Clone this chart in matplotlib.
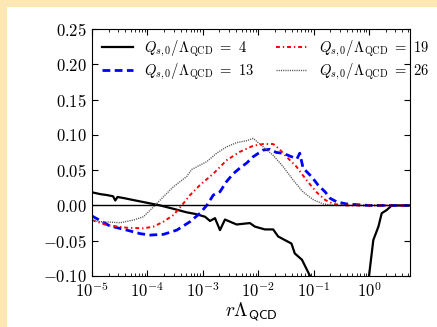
import numpy as np
from matplotlib import pyplot as plt
from matplotlib.patches import Rectangle

plt.rcParams['mathtext.fontset'] = 'cm'
plt.rcParams['font.family'] = 'serif'
plt.rcParams['font.serif'] = ['cmr10', 'DejaVu Serif']
plt.rcParams['axes.formatter.use_mathtext'] = True

# log10(r Lambda) and the curve values
lx_4 = [-5.0, -4.85, -4.73, -4.62, -4.58, -4.54, -4.40, -4.26, -4.01, -3.77, -3.52,
        -3.29, -3.14, -2.96, -2.87, -2.78, -2.69, -2.60, -2.51, -2.39, -2.15, -2.06,
        -1.88, -1.73, -1.64, -1.40, -1.34, -1.21, -1.09, -1.0, -0.7, -0.4, -0.15,
        0.0, 0.078, 0.17, 0.23, 0.32, 0.41, 0.74]
y_4 = [0.0186, 0.016, 0.0147, 0.013, 0.007, 0.012, 0.010, 0.0077, 0.0038, 0.0, -0.005,
       -0.0098, -0.012, -0.016, -0.022, -0.018, -0.035, -0.020, -0.023, -0.027, -0.025, -0.030,
       -0.034, -0.034, -0.044, -0.054, -0.068, -0.077, -0.096, -0.11, -0.14, -0.16, -0.14,
       -0.10, -0.049, -0.030, -0.011, -0.0065, 0.0, 0.0]

lx_13 = [-5.0, -4.68, -4.37, -4.13, -3.95, -3.71, -3.47, -3.23, -3.05, -2.93, -2.81,
         -2.69, -2.57, -2.45, -2.33, -2.21, -2.09, -1.91, -1.79, -1.67, -1.55, -1.43,
         -1.30, -1.25, -1.19, -1.04, -0.92, -0.79, -0.70, -0.58, -0.40, 0.0, 0.74]
y_13 = [-0.015, -0.029, -0.035, -0.040, -0.042, -0.041, -0.035, -0.023, -0.011, 0.0, 0.0147,
        0.0194, 0.034, 0.045, 0.053, 0.060, 0.069, 0.0785, 0.0795, 0.075, 0.074, 0.070,
        0.066, 0.074, 0.053, 0.041, 0.029, 0.019, 0.010, 0.005, 0.002, 0.0, 0.0]

lx_19 = [-5.0, -4.73, -4.37, -4.07, -3.89, -3.71, -3.53, -3.38, -3.23, -3.05, -2.81,
         -2.57, -2.33, -2.09, -1.91, -1.73, -1.62, -1.49, -1.31, -1.13, -0.95, -0.79,
         -0.64, -0.4, 0.74]
y_19 = [-0.0207, -0.028, -0.0316, -0.0325, -0.030, -0.023, -0.0136, 0.0, 0.0147, 0.029, 0.045,
        0.064, 0.076, 0.0846, 0.087, 0.087, 0.080, 0.069, 0.055, 0.036, 0.019, 0.0077,
        0.002, 0.0, 0.0]

lx_26 = [-5.0, -4.85, -4.49, -4.25, -4.07, -3.89, -3.71, -3.53, -3.29, -3.20, -2.93,
         -2.75, -2.57, -2.39, -2.21, -2.09, -1.91, -1.73, -1.55, -1.37, -1.19, -1.00,
         -0.82, -0.6, 0.74]
y_26 = [-0.022, -0.023, -0.0245, -0.0207, -0.016, -0.002, 0.0123, 0.0265, 0.041, 0.051, 0.062,
        0.074, 0.083, 0.089, 0.0917, 0.095, 0.083, 0.071, 0.055, 0.036, 0.019, 0.0077,
        0.002, 0.0, 0.0]

labels = [r'$Q_{s,0}/\Lambda_{\rm QCD}\ =\ 4$', r'$Q_{s,0}/\Lambda_{\rm QCD}\ =\ 13$',
          r'$Q_{s,0}/\Lambda_{\rm QCD}\ =\ 19$', r'$Q_{s,0}/\Lambda_{\rm QCD}\ =\ 26$']

fig = plt.figure(figsize=(4.37, 3.27), dpi=100)
fig.patch.set_facecolor('#fde7b5')
fig.patches.append(Rectangle((7/437, 0), 1, 1 - 7/327, transform=fig.transFigure,
                             facecolor='white', edgecolor='none', zorder=-10))
ax = fig.add_axes([92/437, 51/327, 318/437, 247/327])

ax.plot(10**np.array(lx_4), y_4, color='black', lw=1.6, label=labels[0])
ax.plot(10**np.array(lx_13), y_13, color='blue', lw=2.0, ls=(0, (2.8, 1.6)), label=labels[1])
ax.plot(10**np.array(lx_19), y_19, color='red', lw=1.4, ls=(0, (2, 1.5, 0.7, 1.5)), label=labels[2])
ax.plot(10**np.array(lx_26), y_26, color='#555555', lw=1.0, ls=(0, (0.8, 0.8)), label=labels[3])
ax.axhline(0, color='black', lw=1.0)

ax.set_xscale('log')
ax.set_xlim(1e-5, 10**0.74)
ax.set_ylim(-0.10, 0.25)
ax.set_yticks([-0.10, -0.05, 0.0, 0.05, 0.10, 0.15, 0.20, 0.25])
ax.set_yticklabels([r'$-0.10$', r'$0.05$'.replace('0.05', '-0.05'), r'$0.00$', r'$0.05$',
                    r'$0.10$', r'$0.15$', r'$0.20$', r'$0.25$'])
ax.tick_params(which='both', direction='in', top=True, right=True, labelsize=12)
ax.tick_params(which='major', length=4)
ax.tick_params(which='minor', length=2)
ax.set_xlabel(r'$r\Lambda_\mathsf{QCD}$', fontsize=14, labelpad=0)

ax.legend(ncol=2, loc='upper left', frameon=False, fontsize=10.5, handlelength=2.1,
          columnspacing=1.5, handletextpad=0.8, borderaxespad=0.3, labelspacing=0.2)

plt.savefig('out.png', dpi=100)
